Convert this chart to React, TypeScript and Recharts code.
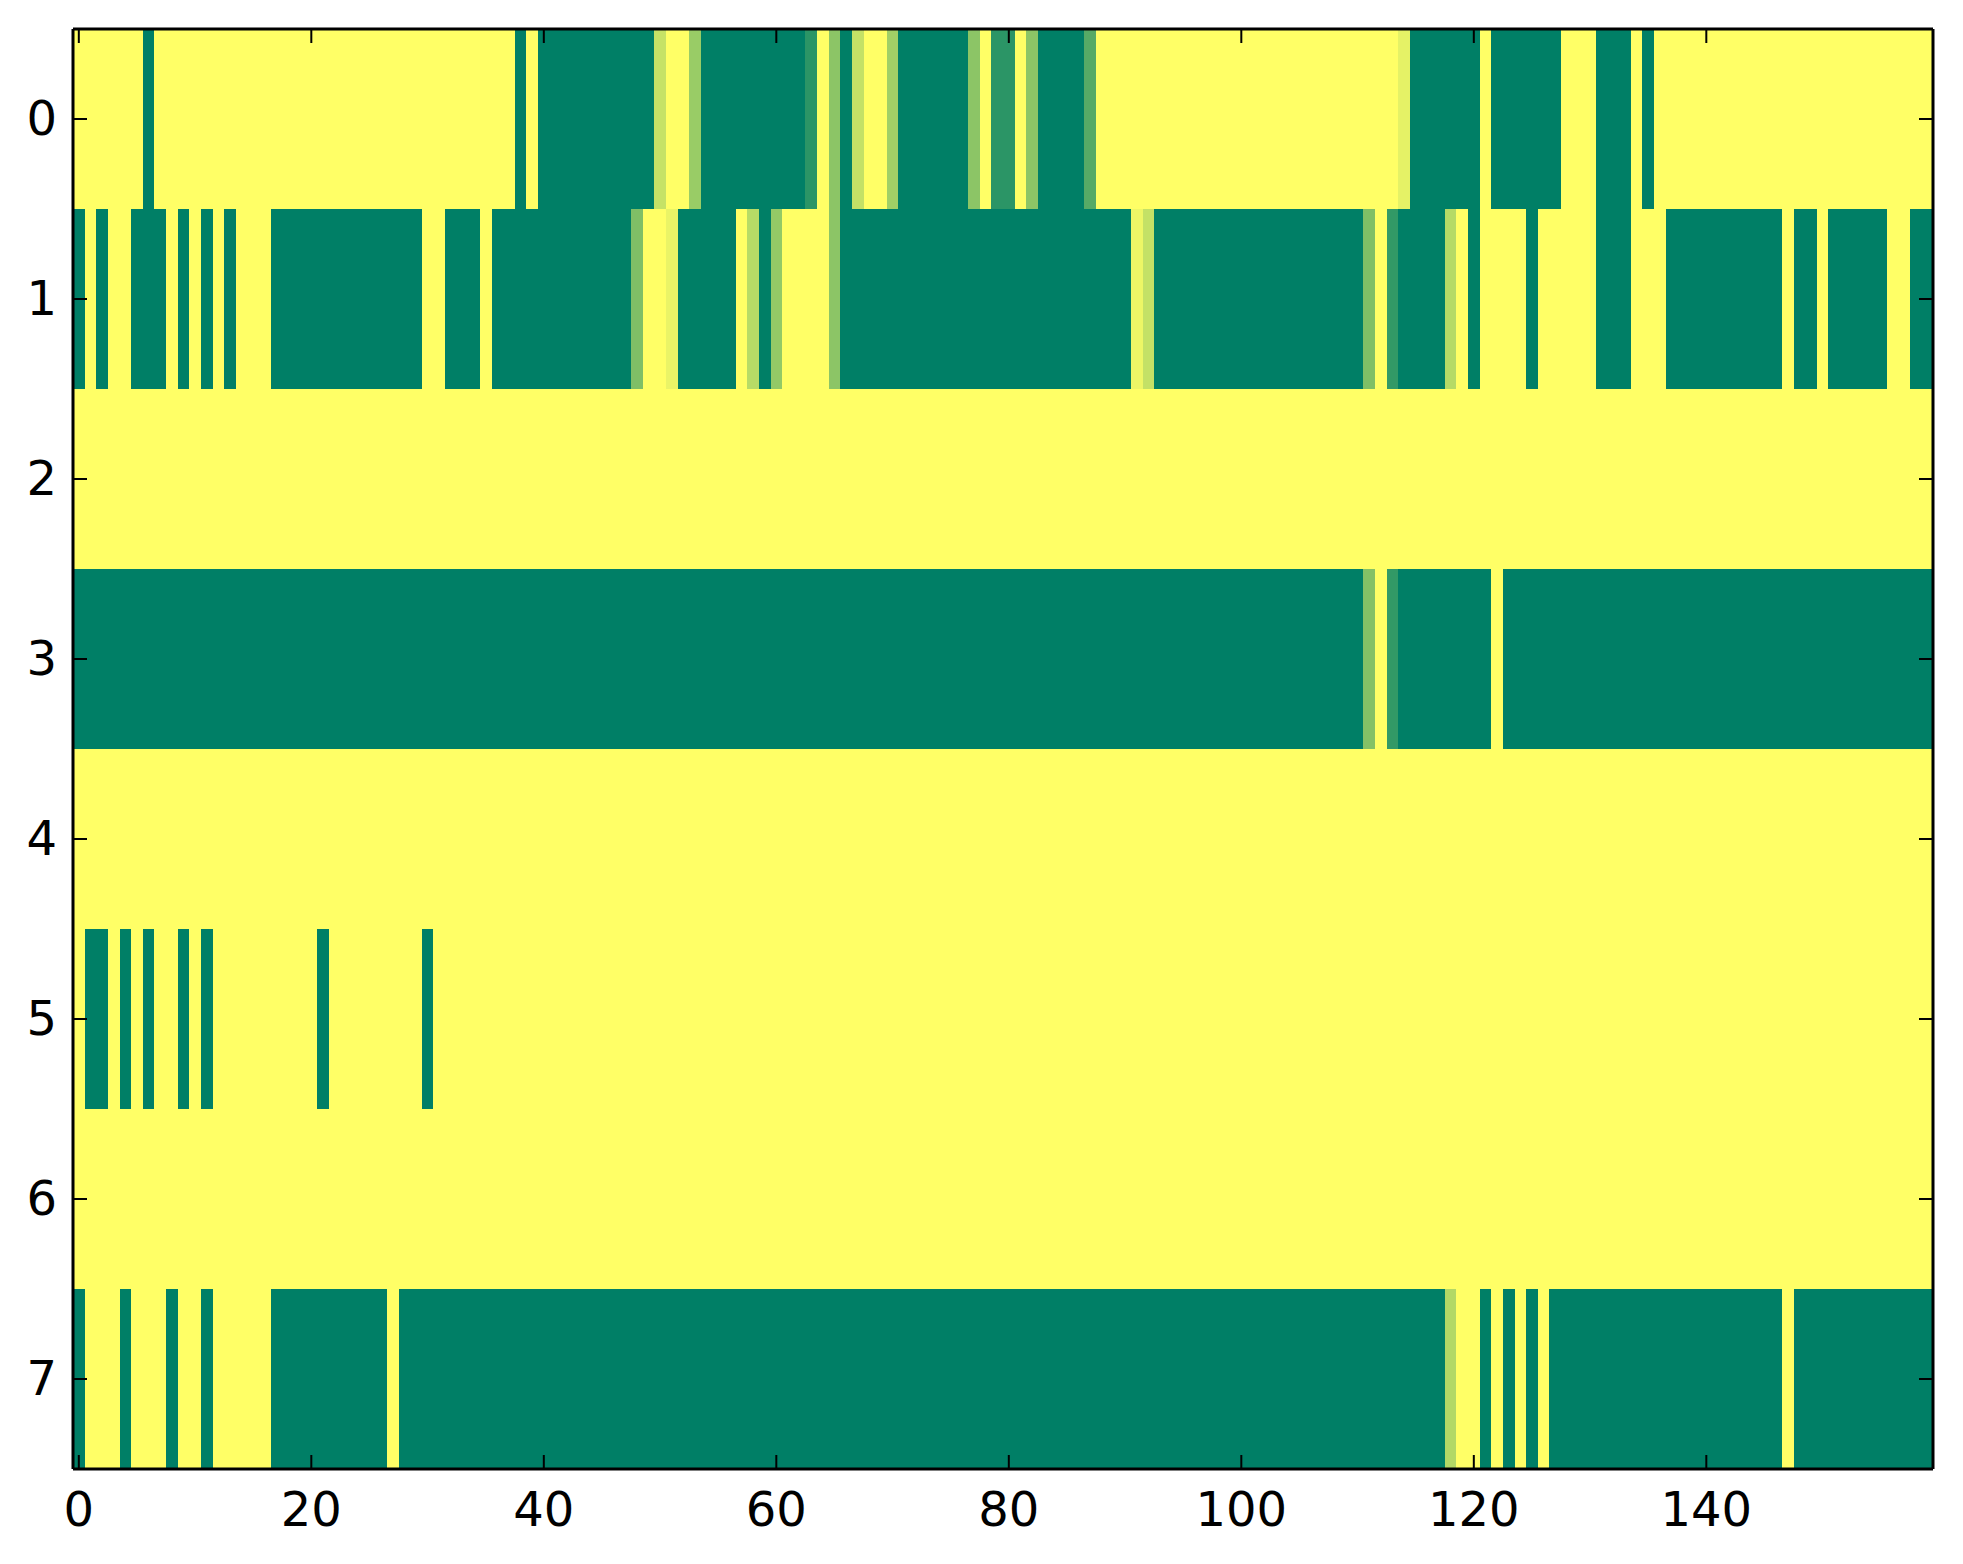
import { Bar, BarChart, Cell, XAxis, YAxis } from "recharts";

// one array per image row, one value per column (0 = yellow ... 1 = green)
const row0 = [
  0, 0, 0, 0, 0, 0, 1, 0, 0, 0, 0, 0, 0, 0, 0, 0, 0, 0, 0, 0,
  0, 0, 0, 0, 0, 0, 0, 0, 0, 0, 0, 0, 0, 0, 0, 0, 0, 0, 1, 0,
  1, 1, 1, 1, 1, 1, 1, 1, 1, 1, 0.22, 0, 0, 0.4, 1, 1, 1, 1, 1, 1,
  1, 1, 1, 0.83, 0, 0.45, 1, 0.23, 0, 0, 0.37, 1, 1, 1, 1, 1, 1, 0.45, 0, 0.83,
  0.83, 0, 0.45, 1, 1, 1, 1, 0.66, 0, 0, 0, 0, 0, 0, 0, 0, 0, 0, 0, 0,
  0, 0, 0, 0, 0, 0, 0, 0, 0, 0, 0, 0, 0, 0, 0.1, 1, 1, 1, 1, 1,
  1, 0, 1, 1, 1, 1, 1, 1, 0, 0, 0, 1, 1, 1, 0, 1, 0, 0, 0, 0,
  0, 0, 0, 0, 0, 0, 0, 0, 0, 0, 0, 0, 0, 0, 0, 0, 0, 0, 0, 0,
];

const row1 = [
  1, 0, 1, 0, 0, 1, 1, 1, 0, 1, 0, 1, 0, 1, 0, 0, 0, 1, 1, 1,
  1, 1, 1, 1, 1, 1, 1, 1, 1, 1, 0, 0, 1, 1, 1, 0, 1, 1, 1, 1,
  1, 1, 1, 1, 1, 1, 1, 1, 0.5, 0, 0, 0.08, 1, 1, 1, 1, 1, 0, 0.28, 1,
  0.42, 0, 0, 0, 0, 0.45, 1, 1, 1, 1, 1, 1, 1, 1, 1, 1, 1, 1, 1, 1,
  1, 1, 1, 1, 1, 1, 1, 1, 1, 1, 1, 0.07, 0.23, 1, 1, 1, 1, 1, 1, 1,
  1, 1, 1, 1, 1, 1, 1, 1, 1, 1, 1, 0.5, 0, 0.8, 1, 1, 1, 1, 0.29, 0,
  1, 0, 0, 0, 0, 1, 0, 0, 0, 0, 0, 1, 1, 1, 0, 0, 0, 1, 1, 1,
  1, 1, 1, 1, 1, 1, 1, 0, 1, 1, 0, 1, 1, 1, 1, 1, 0, 0, 1, 1,
];

const row2 = [
  0, 0, 0, 0, 0, 0, 0, 0, 0, 0, 0, 0, 0, 0, 0, 0, 0, 0, 0, 0,
  0, 0, 0, 0, 0, 0, 0, 0, 0, 0, 0, 0, 0, 0, 0, 0, 0, 0, 0, 0,
  0, 0, 0, 0, 0, 0, 0, 0, 0, 0, 0, 0, 0, 0, 0, 0, 0, 0, 0, 0,
  0, 0, 0, 0, 0, 0, 0, 0, 0, 0, 0, 0, 0, 0, 0, 0, 0, 0, 0, 0,
  0, 0, 0, 0, 0, 0, 0, 0, 0, 0, 0, 0, 0, 0, 0, 0, 0, 0, 0, 0,
  0, 0, 0, 0, 0, 0, 0, 0, 0, 0, 0, 0, 0, 0, 0, 0, 0, 0, 0, 0,
  0, 0, 0, 0, 0, 0, 0, 0, 0, 0, 0, 0, 0, 0, 0, 0, 0, 0, 0, 0,
  0, 0, 0, 0, 0, 0, 0, 0, 0, 0, 0, 0, 0, 0, 0, 0, 0, 0, 0, 0,
];

const row3 = [
  1, 1, 1, 1, 1, 1, 1, 1, 1, 1, 1, 1, 1, 1, 1, 1, 1, 1, 1, 1,
  1, 1, 1, 1, 1, 1, 1, 1, 1, 1, 1, 1, 1, 1, 1, 1, 1, 1, 1, 1,
  1, 1, 1, 1, 1, 1, 1, 1, 1, 1, 1, 1, 1, 1, 1, 1, 1, 1, 1, 1,
  1, 1, 1, 1, 1, 1, 1, 1, 1, 1, 1, 1, 1, 1, 1, 1, 1, 1, 1, 1,
  1, 1, 1, 1, 1, 1, 1, 1, 1, 1, 1, 1, 1, 1, 1, 1, 1, 1, 1, 1,
  1, 1, 1, 1, 1, 1, 1, 1, 1, 1, 1, 0.48, 0, 0.8, 1, 1, 1, 1, 1, 1,
  1, 1, 0, 1, 1, 1, 1, 1, 1, 1, 1, 1, 1, 1, 1, 1, 1, 1, 1, 1,
  1, 1, 1, 1, 1, 1, 1, 1, 1, 1, 1, 1, 1, 1, 1, 1, 1, 1, 1, 1,
];

const row4 = [
  0, 0, 0, 0, 0, 0, 0, 0, 0, 0, 0, 0, 0, 0, 0, 0, 0, 0, 0, 0,
  0, 0, 0, 0, 0, 0, 0, 0, 0, 0, 0, 0, 0, 0, 0, 0, 0, 0, 0, 0,
  0, 0, 0, 0, 0, 0, 0, 0, 0, 0, 0, 0, 0, 0, 0, 0, 0, 0, 0, 0,
  0, 0, 0, 0, 0, 0, 0, 0, 0, 0, 0, 0, 0, 0, 0, 0, 0, 0, 0, 0,
  0, 0, 0, 0, 0, 0, 0, 0, 0, 0, 0, 0, 0, 0, 0, 0, 0, 0, 0, 0,
  0, 0, 0, 0, 0, 0, 0, 0, 0, 0, 0, 0, 0, 0, 0, 0, 0, 0, 0, 0,
  0, 0, 0, 0, 0, 0, 0, 0, 0, 0, 0, 0, 0, 0, 0, 0, 0, 0, 0, 0,
  0, 0, 0, 0, 0, 0, 0, 0, 0, 0, 0, 0, 0, 0, 0, 0, 0, 0, 0, 0,
];

const row5 = [
  0, 1, 1, 0, 1, 0, 1, 0, 0, 1, 0, 1, 0, 0, 0, 0, 0, 0, 0, 0,
  0, 1, 0, 0, 0, 0, 0, 0, 0, 0, 1, 0, 0, 0, 0, 0, 0, 0, 0, 0,
  0, 0, 0, 0, 0, 0, 0, 0, 0, 0, 0, 0, 0, 0, 0, 0, 0, 0, 0, 0,
  0, 0, 0, 0, 0, 0, 0, 0, 0, 0, 0, 0, 0, 0, 0, 0, 0, 0, 0, 0,
  0, 0, 0, 0, 0, 0, 0, 0, 0, 0, 0, 0, 0, 0, 0, 0, 0, 0, 0, 0,
  0, 0, 0, 0, 0, 0, 0, 0, 0, 0, 0, 0, 0, 0, 0, 0, 0, 0, 0, 0,
  0, 0, 0, 0, 0, 0, 0, 0, 0, 0, 0, 0, 0, 0, 0, 0, 0, 0, 0, 0,
  0, 0, 0, 0, 0, 0, 0, 0, 0, 0, 0, 0, 0, 0, 0, 0, 0, 0, 0, 0,
];

const row6 = [
  0, 0, 0, 0, 0, 0, 0, 0, 0, 0, 0, 0, 0, 0, 0, 0, 0, 0, 0, 0,
  0, 0, 0, 0, 0, 0, 0, 0, 0, 0, 0, 0, 0, 0, 0, 0, 0, 0, 0, 0,
  0, 0, 0, 0, 0, 0, 0, 0, 0, 0, 0, 0, 0, 0, 0, 0, 0, 0, 0, 0,
  0, 0, 0, 0, 0, 0, 0, 0, 0, 0, 0, 0, 0, 0, 0, 0, 0, 0, 0, 0,
  0, 0, 0, 0, 0, 0, 0, 0, 0, 0, 0, 0, 0, 0, 0, 0, 0, 0, 0, 0,
  0, 0, 0, 0, 0, 0, 0, 0, 0, 0, 0, 0, 0, 0, 0, 0, 0, 0, 0, 0,
  0, 0, 0, 0, 0, 0, 0, 0, 0, 0, 0, 0, 0, 0, 0, 0, 0, 0, 0, 0,
  0, 0, 0, 0, 0, 0, 0, 0, 0, 0, 0, 0, 0, 0, 0, 0, 0, 0, 0, 0,
];

const row7 = [
  1, 0, 0, 0, 1, 0, 0, 0, 1, 0, 0, 1, 0, 0, 0, 0, 0, 1, 1, 1,
  1, 1, 1, 1, 1, 1, 1, 0, 1, 1, 1, 1, 1, 1, 1, 1, 1, 1, 1, 1,
  1, 1, 1, 1, 1, 1, 1, 1, 1, 1, 1, 1, 1, 1, 1, 1, 1, 1, 1, 1,
  1, 1, 1, 1, 1, 1, 1, 1, 1, 1, 1, 1, 1, 1, 1, 1, 1, 1, 1, 1,
  1, 1, 1, 1, 1, 1, 1, 1, 1, 1, 1, 1, 1, 1, 1, 1, 1, 1, 1, 1,
  1, 1, 1, 1, 1, 1, 1, 1, 1, 1, 1, 1, 1, 1, 1, 1, 1, 1, 0.3, 0,
  0, 1, 0, 1, 0, 1, 0, 1, 1, 1, 1, 1, 1, 1, 1, 1, 1, 1, 1, 1,
  1, 1, 1, 1, 1, 1, 1, 0, 1, 1, 1, 1, 1, 1, 1, 1, 1, 1, 1, 1,
];

const rowLabels = ["0", "1", "2", "3", "4", "5", "6", "7"];
const xTickLabels = [0, 20, 40, 60, 80, 100, 120, 140];

const grid = [row0, row1, row2, row3, row4, row5, row6, row7];
const columnKeys = row0.map((_, i) => `c${i}`);

// every cell is one unit wide, stacked along the row
const chartData = rowLabels.map((label) => {
  const d: Record<string, string | number> = { row: label };
  columnKeys.forEach((k) => (d[k] = 1));
  return d;
});

// ticks sit on column centres
const xTicks = xTickLabels.map((t) => t + 0.5);

// matplotlib summer_r
function summerR(v: number) {
  const r = Math.floor(255 * (1 - v));
  const g = Math.floor(255 * (1 - 0.5 * v));
  return `rgb(${r}, ${g}, 102)`;
}

const FONT = "'DejaVu Sans', 'Bitstream Vera Sans', sans-serif";
const TICK_LEN = 14;
const TICK_W = 2;

function BottomTick({ x, y, payload }: any) {
  return (
    <g>
      <line x1={x} y1={y} x2={x} y2={y - TICK_LEN} stroke="#000" strokeWidth={TICK_W} />
      <text x={x} y={y + 57} textAnchor="middle" fontFamily={FONT} fontSize={48} fill="#000">
        {Math.round(payload.value - 0.5)}
      </text>
    </g>
  );
}

function TopTick({ x, y }: any) {
  return <line x1={x} y1={y} x2={x} y2={y + TICK_LEN} stroke="#000" strokeWidth={TICK_W} />;
}

function LeftTick({ x, y, payload }: any) {
  return (
    <g>
      <line x1={x} y1={y} x2={x + TICK_LEN} y2={y} stroke="#000" strokeWidth={TICK_W} />
      <text x={x - 16} y={y + 16} textAnchor="end" fontFamily={FONT} fontSize={48} fill="#000">
        {payload.value}
      </text>
    </g>
  );
}

function RightTick({ x, y }: any) {
  return <line x1={x} y1={y} x2={x - TICK_LEN} y2={y} stroke="#000" strokeWidth={TICK_W} />;
}

const frame = { stroke: "#000", strokeWidth: 3 };

export default function App() {
  return (
    <div style={{ position: "absolute", left: 0, top: 0, width: 1963, height: 1564, background: "#fff" }}>
      <BarChart
        width={1963}
        height={1564}
        data={chartData}
        layout="vertical"
        barCategoryGap={0}
        barGap={0}
        margin={{ top: 0, right: 0, bottom: 0, left: 0 }}
      >
        {columnKeys.map((key, col) => (
          <Bar key={key} dataKey={key} stackId="cells" isAnimationActive={false}>
            {grid.map((row, r) => (
              <Cell key={r} fill={summerR(row[col])} shapeRendering="crispEdges" />
            ))}
          </Bar>
        ))}

        <XAxis
          type="number"
          domain={[0, 160]}
          allowDataOverflow
          ticks={xTicks}
          interval={0}
          height={95}
          tickSize={0}
          tickMargin={0}
          axisLine={frame}
          tickLine={false}
          tick={(p: any) => <BottomTick {...p} />}
        />
        <XAxis
          xAxisId="top"
          orientation="top"
          type="number"
          domain={[0, 160]}
          allowDataOverflow
          ticks={xTicks}
          interval={0}
          height={29}
          tickSize={0}
          tickMargin={0}
          axisLine={frame}
          tickLine={false}
          tick={(p: any) => <TopTick {...p} />}
        />
        <YAxis
          type="category"
          dataKey="row"
          width={73}
          interval={0}
          tickSize={0}
          tickMargin={0}
          axisLine={frame}
          tickLine={false}
          tick={(p: any) => <LeftTick {...p} />}
        />
        <YAxis
          yAxisId="right"
          orientation="right"
          type="category"
          dataKey="row"
          width={30}
          interval={0}
          tickSize={0}
          tickMargin={0}
          axisLine={frame}
          tickLine={false}
          tick={(p: any) => <RightTick {...p} />}
        />
      </BarChart>
    </div>
  );
}
